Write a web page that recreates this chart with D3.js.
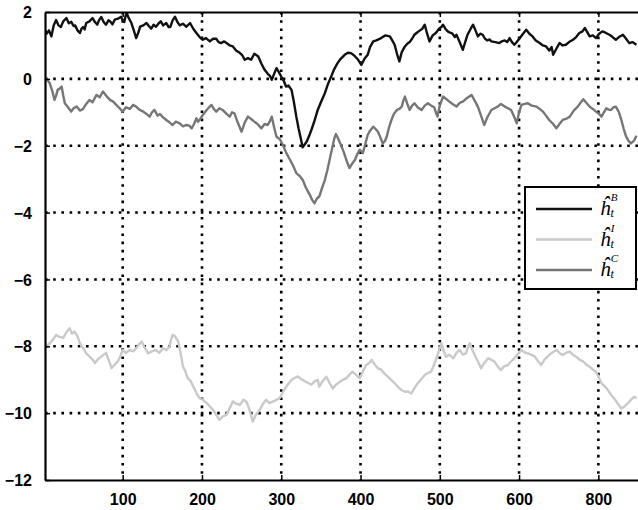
<!DOCTYPE html>
<html><head><meta charset="utf-8">
<script src="https://cdn.jsdelivr.net/npm/d3@7"></script>
<style>body{margin:0;background:#fff}svg{display:block}</style>
</head><body><svg id="c" width="638" height="510"></svg>
<script>
// ---- data ----
const xTickValues = [100, 200, 300, 400, 500, 600, 700];
const xTickLabels = ["100", "200", "300", "400", "500", "600", "800"];
const yTickValues = [-12, -10, -8, -6, -4, -2, 0, 2];
const yTickLabels = ["\u221212", "\u221210", "\u22128", "\u22126", "\u22124", "\u22122", "0", "2"];
const seriesKeys = ["B", "I", "C"];

const tB = [1,4,7,10,13,16,19,22,25,29,32,35,38,40,43,46,48,50,52,54,58,62,65,68,70,73,76,79,82,84,87,90,94,98,100,102,104,105,108,111,114,117,120,122,126,130,133,136,139,142,145,148,151,155,158,160,163,166,169,172,176,180,183,185,189,193,197,201,205,210,214,218,221,224,228,231,235,239,243,248,251,254,258,262,266,268,271,275,279,283,286,288,291,294,297,300,303,306,309,313,316,319,322,325,327,330,332,335,338,342,346,350,355,359,363,367,371,375,380,384,388,392,397,401,405,409,412,416,420,426,431,437,440,443,446,449,452,456,459,462,465,468,471,475,478,481,484,487,491,495,499,502,504,507,510,513,516,519,521,525,529,532,535,539,542,545,548,551,554,557,560,563,565,570,575,578,582,585,588,591,594,597,601,605,609,613,617,621,626,630,634,638,641,643,647,651,655,659,663,668,672,676,680,683,686,689,693,697,701,705,709,714,718,722,726,731,735,739,743,748];
const vB = [1.52,1.35,1.45,1.27,1.6,1.76,1.6,1.55,1.72,1.82,1.66,1.71,1.58,1.6,1.45,1.37,1.5,1.55,1.48,1.67,1.72,1.82,1.7,1.62,1.75,1.85,1.7,1.62,1.75,1.72,1.63,1.77,1.8,1.86,1.75,1.7,1.92,1.97,1.8,1.67,1.45,1.22,1.4,1.56,1.6,1.67,1.58,1.5,1.62,1.56,1.65,1.72,1.6,1.67,1.55,1.55,1.75,1.86,1.7,1.6,1.65,1.56,1.62,1.67,1.5,1.37,1.25,1.17,1.22,1.12,1.2,1.2,1.1,1.07,1.12,1.07,1.0,0.97,0.85,0.77,0.7,0.57,0.62,0.57,0.75,0.72,0.67,0.45,0.27,0.15,0.08,-0.03,0.15,0.32,0.2,0.07,-0.05,-0.23,-0.2,-0.33,-0.7,-1.13,-1.5,-1.82,-2.05,-1.95,-1.88,-1.72,-1.53,-1.25,-0.93,-0.7,-0.43,-0.15,0.07,0.3,0.47,0.6,0.72,0.78,0.77,0.7,0.57,0.42,0.6,0.72,0.95,1.12,1.15,1.22,1.3,1.27,1.15,1.02,0.75,0.52,0.8,0.97,1.05,1.1,1.2,1.32,1.38,1.45,1.5,1.62,1.35,1.12,1.3,1.37,1.5,1.55,1.62,1.5,1.42,1.38,1.35,1.25,1.32,1.1,0.87,1.1,1.32,1.5,1.62,1.45,1.27,1.35,1.32,1.2,1.15,1.18,1.12,1.1,1.07,1.12,1.15,1.1,1.22,1.1,1.02,1.1,1.22,1.35,1.47,1.35,1.27,1.15,1.07,1.0,0.97,0.85,0.95,0.72,0.9,1.07,1.0,1.02,1.1,1.17,1.25,1.37,1.42,1.52,1.4,1.27,1.3,1.22,1.35,1.42,1.38,1.32,1.25,1.17,1.25,1.32,1.2,1.07,1.1,1.02];

const tI = [1,4,8,12,16,20,25,29,33,36,39,43,46,50,54,58,62,65,69,73,76,79,83,86,90,94,97,100,104,109,113,117,120,124,128,132,137,142,146,151,155,159,161,163,166,170,173,176,179,182,186,189,193,197,201,206,210,214,218,222,226,231,235,239,243,248,252,256,260,264,268,273,277,281,285,290,294,298,301,304,308,313,317,321,325,330,334,338,342,346,348,352,357,361,365,369,374,378,382,386,390,394,399,403,407,411,414,418,422,426,430,434,439,443,447,451,456,460,464,468,472,476,481,485,489,492,495,498,502,505,508,512,517,521,525,529,533,536,538,541,544,548,552,556,561,565,569,573,577,581,586,590,594,598,603,607,611,615,620,624,628,632,636,641,647,651,655,659,664,668,672,676,681,685,689,693,697,701,704,708,712,716,720,724,729,733,737,741,745,748];
const vI = [-8.11,-7.98,-7.91,-7.8,-7.66,-7.72,-7.75,-7.58,-7.46,-7.62,-7.56,-7.7,-7.91,-8.05,-8.21,-8.3,-8.4,-8.5,-8.38,-8.31,-8.25,-8.2,-8.45,-8.65,-8.55,-8.45,-8.3,-8.11,-8.2,-8.11,-8.15,-8.06,-7.95,-7.86,-8.05,-8.21,-8.15,-8.11,-8.2,-8.06,-8.12,-8.01,-7.8,-7.66,-7.7,-7.86,-8.2,-8.6,-8.75,-8.95,-9.05,-9.2,-9.4,-9.55,-9.6,-9.7,-9.8,-9.9,-10.05,-10.2,-10.1,-10.05,-9.85,-9.65,-9.72,-9.75,-9.6,-9.65,-9.9,-10.25,-10.05,-9.9,-9.72,-9.6,-9.7,-9.65,-9.6,-9.55,-9.42,-9.3,-9.15,-9.0,-8.95,-8.9,-8.98,-9.05,-9.1,-9.15,-9.05,-9.0,-9.21,-9.05,-8.91,-9.1,-9.26,-9.15,-9.06,-9.0,-8.96,-8.85,-8.76,-8.85,-8.96,-8.75,-8.56,-8.5,-8.41,-8.55,-8.66,-8.7,-8.81,-8.9,-9.01,-9.1,-9.21,-9.3,-9.36,-9.35,-9.41,-9.25,-9.11,-9.0,-8.86,-8.8,-8.76,-8.6,-8.41,-8.2,-7.91,-8.15,-8.31,-8.25,-8.36,-8.2,-8.11,-8.25,-8.21,-8.0,-7.91,-8.1,-8.26,-8.45,-8.66,-8.5,-8.36,-8.4,-8.46,-8.6,-8.71,-8.6,-8.56,-8.45,-8.36,-8.25,-8.11,-8.18,-8.21,-8.25,-8.31,-8.45,-8.56,-8.4,-8.31,-8.2,-8.11,-8.2,-8.26,-8.2,-8.16,-8.25,-8.31,-8.4,-8.46,-8.55,-8.61,-8.7,-8.76,-8.95,-9.11,-9.2,-9.31,-9.45,-9.56,-9.7,-9.86,-9.8,-9.71,-9.6,-9.51,-9.55];

const tC = [1,4,8,11,14,16,18,20,23,25,27,31,35,38,42,46,50,54,58,62,67,71,75,79,84,88,94,97,100,104,109,113,117,121,126,130,134,137,140,144,147,151,155,159,163,167,172,176,180,184,187,190,193,195,197,202,206,209,212,215,218,222,226,231,235,238,241,245,250,254,258,262,266,270,275,279,283,286,288,291,294,298,302,306,311,315,319,323,327,331,336,339,342,345,348,351,355,358,361,364,367,369,372,376,379,382,386,389,393,396,399,403,406,409,412,416,419,422,425,428,431,433,436,439,442,446,449,452,454,456,459,462,465,468,472,477,481,485,489,493,495,497,500,504,508,512,516,521,525,529,534,540,544,548,552,556,560,565,569,573,577,582,586,590,594,597,600,603,607,611,616,622,626,630,634,638,643,647,651,655,659,664,669,674,678,681,685,689,693,697,701,704,707,710,713,716,719,722,726,729,732,735,738,741,745,748];
const vC = [0.02,0.0,-0.13,-0.35,-0.63,-0.5,-0.33,-0.3,-0.23,-0.5,-0.73,-0.85,-0.98,-0.88,-0.83,-0.95,-0.9,-0.75,-0.63,-0.7,-0.48,-0.55,-0.38,-0.5,-0.63,-0.68,-0.83,-0.9,-0.98,-0.85,-0.9,-0.78,-0.83,-0.92,-0.98,-1.05,-1.13,-1.0,-0.93,-1.1,-1.05,-1.15,-1.23,-1.3,-1.38,-1.28,-1.33,-1.42,-1.38,-1.4,-1.48,-1.35,-1.18,-1.28,-1.23,-1.05,-0.93,-0.85,-0.78,-0.9,-0.98,-0.88,-0.93,-1.05,-1.13,-1.0,-1.03,-1.3,-1.58,-1.3,-1.13,-1.2,-1.28,-1.35,-1.48,-1.35,-1.38,-1.25,-1.13,-1.45,-1.73,-1.8,-1.97,-2.2,-2.42,-2.6,-2.82,-2.9,-3.02,-3.25,-3.47,-3.62,-3.72,-3.58,-3.52,-3.3,-3.02,-2.75,-2.42,-2.1,-1.78,-1.65,-1.8,-2.02,-2.2,-2.42,-2.67,-2.55,-2.42,-2.25,-2.12,-2.22,-1.95,-1.68,-1.55,-1.43,-1.5,-1.58,-1.75,-1.93,-1.85,-1.73,-1.45,-1.23,-1.05,-0.93,-0.9,-0.83,-0.65,-0.53,-0.75,-0.93,-0.8,-0.73,-0.85,-0.93,-0.8,-0.73,-0.8,-0.85,-1.0,-1.13,-0.8,-0.53,-0.6,-0.68,-0.75,-0.83,-0.72,-0.68,-0.58,-0.48,-0.65,-0.83,-1.1,-1.38,-1.15,-0.93,-0.88,-0.83,-0.75,-0.83,-0.88,-0.93,-1.15,-1.33,-1.0,-0.78,-0.75,-0.73,-0.8,-0.83,-0.9,-0.98,-1.1,-1.23,-1.35,-1.48,-1.35,-1.23,-1.2,-1.13,-0.95,-0.83,-0.7,-0.61,-0.72,-0.83,-0.9,-0.98,-1.05,-1.13,-1.0,-0.88,-0.92,-0.93,-0.85,-0.83,-1.0,-1.23,-1.5,-1.73,-1.85,-1.93,-1.85,-1.7];

// ---- drawing ----
const svg = d3.select("#c");
const L = 45, R = 638, T = 12, B = 480;
const x = d3.scaleLinear().domain([2, 750]).range([L, R]);
const y = d3.scaleLinear().domain([-12, 2]).range([B, T]);
const colors = {B: "#111111", I: "#c9c9c9", C: "#767676"};
const series = {B: [tB, vB], I: [tI, vI], C: [tC, vC]};

svg.append("rect").attr("width", 638).attr("height", 510).attr("fill", "#fff");

svg.append("defs").append("clipPath").attr("id", "clip")
  .append("rect").attr("x", L).attr("y", T).attr("width", R - L).attr("height", B - T);

// grid
const grid = svg.append("g").attr("stroke", "#000").attr("stroke-width", 2.6)
  .attr("stroke-dasharray", "2.6 5.6").attr("stroke-linecap", "butt");
grid.selectAll("line.gx").data(xTickValues).join("line").attr("class", "gx")
  .attr("x1", d => x(d)).attr("x2", d => x(d)).attr("y1", T).attr("y2", B);
grid.selectAll("line.gy").data(yTickValues.filter(v => v > -12 && v < 2)).join("line").attr("class", "gy")
  .attr("y1", d => y(d)).attr("y2", d => y(d)).attr("x1", L).attr("x2", R);

// lines
const line = d3.line().x(d => x(d[0])).y(d => y(d[1]));
const plot = svg.append("g").attr("clip-path", "url(#clip)");
seriesKeys.forEach(k => {
  const [tt, vv] = series[k];
  plot.append("path").datum(tt.map((t, i) => [t, vv[i]]))
    .attr("d", line).attr("fill", "none").attr("stroke", colors[k])
    .attr("stroke-width", 2.4).attr("stroke-linejoin", "round");
});

// axes
const fmtX = d => xTickLabels[xTickValues.indexOf(d)];
const fmtY = d => yTickLabels[yTickValues.indexOf(d)];
const xAxis = svg.append("g").attr("transform", `translate(0,${B})`)
  .call(d3.axisBottom(x).tickValues(xTickValues).tickFormat(fmtX).tickSizeInner(-5).tickSizeOuter(0).tickPadding(14));
const xTop = svg.append("g").attr("transform", `translate(0,${T})`)
  .call(d3.axisTop(x).tickValues(xTickValues).tickFormat("").tickSizeInner(-5).tickSizeOuter(0));
const yAxis = svg.append("g").attr("transform", `translate(${L},0)`)
  .call(d3.axisLeft(y).tickValues(yTickValues).tickFormat(fmtY).tickSizeInner(-5).tickSizeOuter(0).tickPadding(13));
[xAxis, xTop, yAxis].forEach(g => {
  g.select(".domain").attr("stroke", "#000").attr("stroke-width", 2.2);
  g.selectAll(".tick line").attr("stroke", "#000").attr("stroke-width", 1.5);
  g.selectAll("text").attr("fill", "#000").attr("font-family", "Liberation Sans, Arial, sans-serif")
    .attr("font-weight", "bold").attr("font-size", 16);
});
yAxis.selectAll("text").attr("dy", "0.35em");

// legend
const lg = svg.append("g");
lg.append("rect").attr("x", 525).attr("y", 187).attr("width", 111).attr("height", 102)
  .attr("fill", "#fff").attr("stroke", "#000").attr("stroke-width", 2);
seriesKeys.forEach((k, i) => {
  const cy = 209 + i * 30.5;
  lg.append("line").attr("x1", 536).attr("x2", 592).attr("y1", cy).attr("y2", cy)
    .attr("stroke", colors[k]).attr("stroke-width", 2.4);
  const t = lg.append("text").attr("x", 600).attr("y", cy + 6)
    .attr("font-family", "Liberation Serif, Times New Roman, serif").attr("font-style", "italic")
    .attr("font-size", 21).attr("fill", "#000");
  t.append("tspan").text("\u0125");
  t.append("tspan").attr("font-size", 12).attr("dy", 2).text("t");
  t.append("tspan").attr("font-size", 11).attr("dx", -3).attr("dy", -16).text(k);
});
</script></body></html>
